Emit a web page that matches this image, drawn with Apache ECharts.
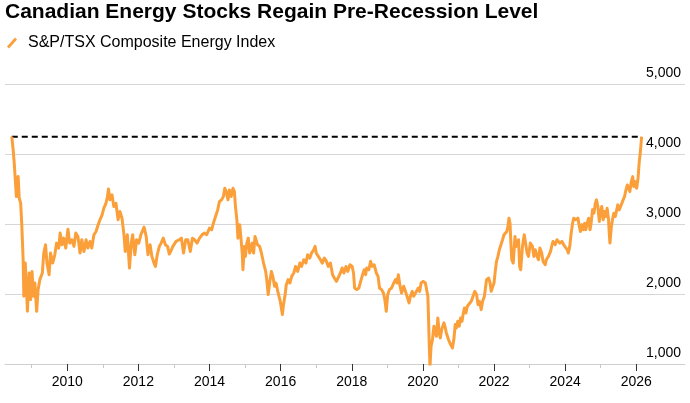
<!DOCTYPE html>
<html>
<head>
<meta charset="utf-8">
<title>Canadian Energy Stocks Regain Pre-Recession Level</title>
<script src="https://cdn.jsdelivr.net/npm/echarts@6/dist/echarts.min.js"></script>
<style>
  html, body { margin: 0; padding: 0; background: #fff; }
  #chart { width: 690px; height: 403px; }
</style>
</head>
<body>
<div id="chart"></div>
<script>
// decimal years
const dates = [
  2008.44, 2008.48, 2008.51, 2008.54, 2008.57, 2008.62, 2008.65, 2008.69, 2008.72, 2008.76,
  2008.78, 2008.82, 2008.86, 2008.88, 2008.93, 2008.97, 2009.01, 2009.05, 2009.09, 2009.14,
  2009.18, 2009.23, 2009.30, 2009.34, 2009.39, 2009.43, 2009.49, 2009.53, 2009.59, 2009.65,
  2009.70, 2009.76, 2009.80, 2009.85, 2009.90, 2009.96, 2010.02, 2010.07, 2010.13, 2010.19,
  2010.24, 2010.30, 2010.36, 2010.41, 2010.47, 2010.53, 2010.58, 2010.64, 2010.69, 2010.75,
  2010.81, 2010.86, 2010.92, 2010.98, 2011.03, 2011.09, 2011.13, 2011.16, 2011.20, 2011.26,
  2011.31, 2011.37, 2011.43, 2011.48, 2011.54, 2011.60, 2011.63, 2011.69, 2011.75, 2011.80,
  2011.84, 2011.90, 2011.95, 2012.01, 2012.07, 2012.12, 2012.16, 2012.22, 2012.27, 2012.33,
  2012.38, 2012.44, 2012.48, 2012.53, 2012.59, 2012.64, 2012.70, 2012.76, 2012.82, 2012.87,
  2012.93, 2012.97, 2013.06, 2013.15, 2013.21, 2013.27, 2013.33, 2013.39, 2013.46, 2013.52,
  2013.58, 2013.65, 2013.72, 2013.79, 2013.85, 2013.92, 2014.00, 2014.06, 2014.11, 2014.17,
  2014.23, 2014.28, 2014.34, 2014.39, 2014.43, 2014.47, 2014.52, 2014.56, 2014.61, 2014.66,
  2014.70, 2014.73, 2014.77, 2014.80, 2014.85, 2014.88, 2014.92, 2014.94, 2014.98, 2015.01,
  2015.05, 2015.09, 2015.13, 2015.16, 2015.20, 2015.24, 2015.28, 2015.31, 2015.35, 2015.41,
  2015.46, 2015.52, 2015.58, 2015.61, 2015.65, 2015.69, 2015.74, 2015.78, 2015.83, 2015.87,
  2015.93, 2015.99, 2016.05, 2016.08, 2016.12, 2016.16, 2016.21, 2016.26, 2016.31, 2016.37,
  2016.42, 2016.48, 2016.54, 2016.59, 2016.65, 2016.71, 2016.76, 2016.82, 2016.87, 2016.93,
  2016.97, 2017.00, 2017.06, 2017.12, 2017.17, 2017.23, 2017.29, 2017.34, 2017.40, 2017.46,
  2017.51, 2017.57, 2017.62, 2017.68, 2017.73, 2017.78, 2017.84, 2017.89, 2017.95, 2018.01,
  2018.05, 2018.08, 2018.14, 2018.20, 2018.25, 2018.29, 2018.35, 2018.39, 2018.42, 2018.48,
  2018.53, 2018.57, 2018.63, 2018.69, 2018.74, 2018.78, 2018.84, 2018.89, 2018.93, 2018.97,
  2019.01, 2019.06, 2019.12, 2019.18, 2019.23, 2019.27, 2019.31, 2019.35, 2019.40, 2019.46,
  2019.51, 2019.57, 2019.61, 2019.65, 2019.70, 2019.74, 2019.78, 2019.82, 2019.87, 2019.91,
  2019.95, 2020.01, 2020.07, 2020.11, 2020.14, 2020.16, 2020.18, 2020.20, 2020.23, 2020.27,
  2020.31, 2020.34, 2020.38, 2020.42, 2020.46, 2020.49, 2020.53, 2020.59, 2020.62, 2020.66,
  2020.72, 2020.78, 2020.83, 2020.87, 2020.91, 2020.94, 2020.98, 2021.02, 2021.06, 2021.10,
  2021.13, 2021.17, 2021.21, 2021.25, 2021.30, 2021.36, 2021.41, 2021.46, 2021.51, 2021.55,
  2021.59, 2021.64, 2021.68, 2021.73, 2021.79, 2021.85, 2021.89, 2021.92, 2021.96, 2022.00,
  2022.04, 2022.07, 2022.11, 2022.15, 2022.21, 2022.24, 2022.28, 2022.32, 2022.36, 2022.39,
  2022.42, 2022.45, 2022.47, 2022.50, 2022.54, 2022.59, 2022.62, 2022.69, 2022.72, 2022.75,
  2022.80, 2022.85, 2022.89, 2022.93, 2022.97, 2023.02, 2023.08, 2023.12, 2023.16, 2023.21,
  2023.25, 2023.29, 2023.34, 2023.38, 2023.44, 2023.47, 2023.53, 2023.59, 2023.62, 2023.66,
  2023.72, 2023.77, 2023.81, 2023.85, 2023.91, 2023.96, 2024.00, 2024.06, 2024.09, 2024.13,
  2024.17, 2024.21, 2024.24, 2024.30, 2024.36, 2024.40, 2024.43, 2024.47, 2024.51, 2024.55,
  2024.58, 2024.62, 2024.66, 2024.70, 2024.73, 2024.77, 2024.81, 2024.85, 2024.88, 2024.92,
  2024.96, 2024.99, 2025.03, 2025.07, 2025.11, 2025.14, 2025.18, 2025.22, 2025.24, 2025.26,
  2025.30, 2025.33, 2025.37, 2025.41, 2025.45, 2025.48, 2025.52, 2025.56, 2025.60, 2025.63,
  2025.67, 2025.71, 2025.75, 2025.78, 2025.82, 2025.86, 2025.90, 2025.93, 2025.97, 2026.01,
  2026.05, 2026.08, 2026.12, 2026.15
]
const closes = [
  4247, 4057, 3867, 3630, 3392, 3677, 3368, 3297, 3012, 2490,
  1967, 2442, 2015, 1753, 2300, 1920, 2323, 1967, 2157, 1753,
  2062, 2205, 2300, 2585, 2703, 2442, 2276, 2585, 2442, 2560,
  2727, 2656, 2870, 2703, 2798, 2656, 2926, 2727, 2775, 2680,
  2870, 2822, 2585, 2775, 2608, 2775, 2656, 2751, 2656, 2846,
  2893, 2974, 3060, 3131, 3226, 3297, 3392, 3501, 3345, 3416,
  3250, 3297, 3060, 3178, 3083, 2822, 2608, 2846, 2371, 2727,
  2846, 2560, 2775, 2727, 2846, 2870, 2955, 2822, 2560, 2703,
  2537, 2442, 2394, 2560, 2680, 2727, 2798, 2703, 2680, 2570,
  2632, 2680, 2751, 2775, 2798, 2585, 2775, 2775, 2608, 2798,
  2775, 2727, 2798, 2846, 2870, 2846, 2941, 2917, 3012, 3107,
  3202, 3321, 3345, 3392, 3511, 3463, 3345, 3487, 3392, 3511,
  3463, 3250, 3060, 2798, 2990, 2822, 2585, 2347, 2680, 2537,
  2727, 2798, 2585, 2632, 2727, 2585, 2822, 2846, 2703, 2680,
  2585, 2442, 2323, 2205, 1991, 2157, 2323, 2252, 2110, 2157,
  2015, 1896, 1706, 1848, 1967, 2133, 2205, 2157, 2252, 2300,
  2394, 2323, 2442, 2394, 2490, 2442, 2560, 2513, 2585, 2632,
  2680, 2585, 2537, 2490, 2442, 2513, 2466, 2394, 2442, 2276,
  2228, 2181, 2200, 2300, 2371, 2300, 2394, 2323, 2418, 2394,
  2300, 2086, 2062, 2086, 2062, 2252, 2347, 2276, 2371, 2347,
  2466, 2394, 2418, 2300, 2252, 2086, 2062, 2015, 1920, 1753,
  1991, 2062, 2086, 2157, 2205, 2157, 2276, 2133, 2015, 2110,
  2038, 1943, 1872, 1967, 2038, 1967, 1943, 2038, 2086, 2038,
  2157, 2181, 2157, 2157, 1967, 1634, 1254, 975, 1254, 1349,
  1539, 1492, 1396, 1658, 1444, 1373, 1492, 1587, 1539, 1444,
  1349, 1278, 1230, 1349, 1563, 1515, 1610, 1539, 1658, 1610,
  1706, 1801, 1729, 1825, 1801, 1896, 1872, 2038, 1991, 1848,
  1896, 1777, 1896, 1967, 2205, 2228, 2157, 2038, 2015, 2157,
  2347, 2466, 2537, 2632, 2727, 2775, 2846, 2822, 2893, 2965,
  3083, 3012, 2775, 2490, 2442, 2822, 2680, 2775, 2394, 2347,
  2680, 2846, 2822, 2585, 2537, 2727, 2680, 2537, 2632, 2537,
  2490, 2656, 2585, 2466, 2418, 2490, 2537, 2608, 2680, 2751,
  2703, 2775, 2798, 2727, 2751, 2703, 2727, 2632, 2585, 2680,
  2870, 3012, 3083, 3060, 3083, 2965, 2893, 2990, 2917, 3012,
  2917, 3012, 3083, 2917, 3012, 3202, 3155, 3297, 3345, 3250,
  3036, 3155, 3250, 3060, 3178, 3107, 3226, 3060, 2870, 2727,
  2965, 3060, 3155, 3107, 3202, 3273, 3202, 3250, 3273, 3345,
  3392, 3487, 3558, 3535, 3463, 3606, 3677, 3535, 3606, 3511,
  3653, 3867, 4057, 4247
]
const preRecessionLevel = 4247
const labelYears = [2010, 2012, 2014, 2016, 2018, 2020, 2022, 2024, 2026]
const minorYears = [2009, 2011, 2013, 2015, 2017, 2019, 2021, 2023, 2025]

const seriesName = 'S&P/TSX Composite Energy Index'
const xMin = 2008.25
const xMax = 2027.37

const chart = echarts.init(document.getElementById('chart'))

const option = {
  animation: false,
  textStyle: { fontFamily: 'Liberation Sans, Arial, sans-serif' },
  title: {
    text: 'Canadian Energy Stocks Regain Pre-Recession Level',
    left: 5,
    top: 2,
    padding: 0,
    textStyle: { fontSize: 21, fontWeight: 'bold', color: '#000' }
  },
  legend: {
    data: [seriesName],
    left: 7,
    top: 35,
    padding: 0,
    selectedMode: false,
    itemWidth: 10,
    itemHeight: 11,
    icon: 'path://M0,9 L8,0 L10,2 L2,11 Z',
    textStyle: { fontSize: 16, color: '#000', padding: [0, 0, 0, 6] }
  },
  grid: { left: 5, right: 5, top: 84, bottom: 39 },
  xAxis: [
    {
      type: 'value',
      min: xMin,
      max: xMax,
      splitLine: { show: false },
      axisLine: { lineStyle: { color: '#cfcfcf', width: 1 } },
      axisTick: { customValues: labelYears, length: 7, lineStyle: { color: '#333' } },
      axisLabel: {
        customValues: labelYears,
        formatter: v => String(v),
        fontSize: 14,
        color: '#000',
        margin: 11
      }
    },
    {
      type: 'value',
      min: xMin,
      max: xMax,
      position: 'bottom',
      splitLine: { show: false },
      axisLine: { show: false },
      axisTick: { customValues: minorYears, length: 4, lineStyle: { color: '#c8c8c8' } },
      axisLabel: { show: false }
    }
  ],
  yAxis: {
    type: 'value',
    position: 'right',
    min: 1000,
    max: 5000,
    interval: 1000,
    axisLine: { show: false },
    axisTick: { show: false },
    splitLine: { lineStyle: { color: '#d6d6d6', width: 1 } },
    axisLabel: {
      inside: true,
      align: 'right',
      verticalAlign: 'bottom',
      margin: 4,
      padding: [0, 0, 4, 0],
      fontSize: 14,
      color: '#000',
      showMinLabel: true,
      showMaxLabel: true,
      formatter: v => v.toLocaleString('en-US')
    }
  },
  series: [
    {
      name: 'Pre-recession level',
      type: 'line',
      data: [[dates[0], preRecessionLevel], [dates[dates.length - 1], preRecessionLevel]],
      symbol: 'none',
      z: 1,
      lineStyle: { color: '#000', width: 2, type: [6, 4] }
    },
    {
      name: seriesName,
      type: 'line',
      data: dates.map((d, i) => [d, closes[i]]),
      symbol: 'none',
      z: 2,
      color: '#fb9f3a',
      lineStyle: { color: '#fb9f3a', width: 3, join: 'round' }
    }
  ]
}

chart.setOption(option)
</script>
</body>
</html>
